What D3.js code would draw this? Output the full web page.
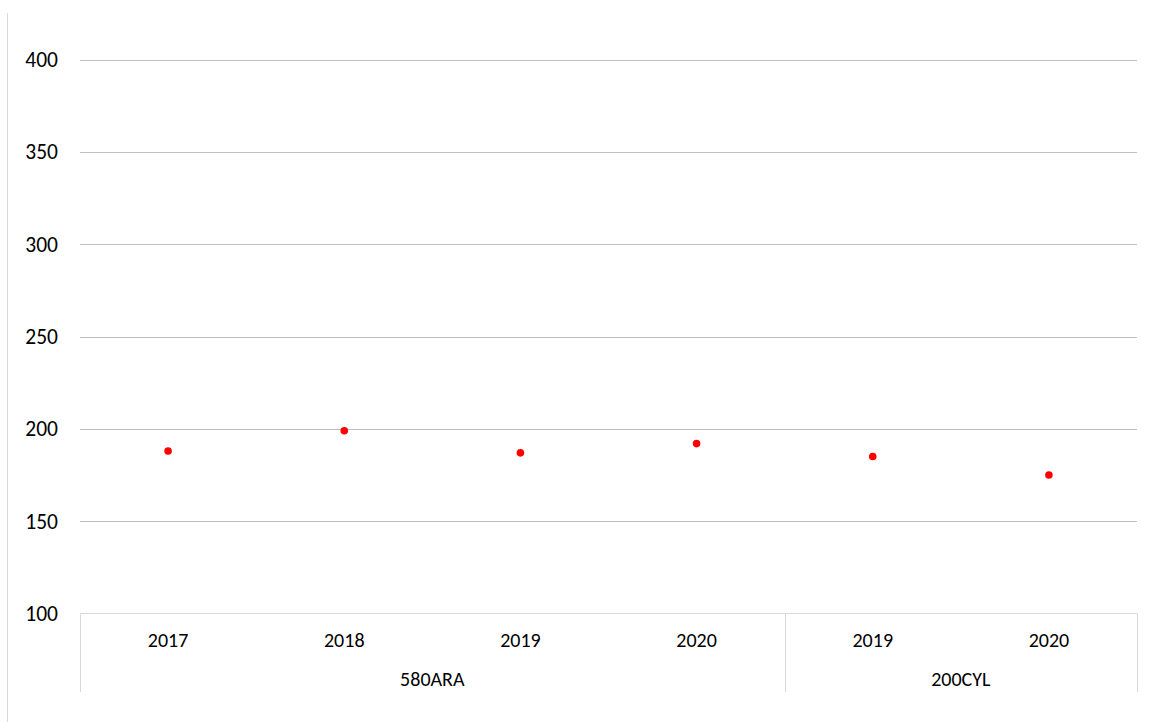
<!DOCTYPE html>
<html><head><meta charset="utf-8">
<script src="https://cdn.jsdelivr.net/npm/d3@7"></script>
<style>html,body{margin:0;padding:0;background:#fff;}svg{display:block;}</style>
</head><body>
<script>
const groups = ["580ARA","580ARA","580ARA","580ARA","200CYL","200CYL"];
const years = ["2017","2018","2019","2020","2019","2020"];
const values = [188, 199, 187, 192, 185, 175];
const yTicks = [100,150,200,250,300,350,400];

const W = 1163, H = 722;
const m = {left: 80, right: 1137, top: 59.5, bottom: 613.5};
const font = "Carlito, Calibri, 'Open Sans', 'Liberation Sans', sans-serif";

const svg = d3.select("body").append("svg").attr("width", W).attr("height", H);

// left border line
svg.append("line").attr("x1",7.5).attr("x2",7.5).attr("y1",13).attr("y2",H)
  .attr("stroke","#d9d9d9").attr("stroke-width",1);

const y = d3.scaleLinear().domain([100,400]).range([m.bottom, m.top]);
const idx = d3.range(values.length);
const x = d3.scaleBand().domain(idx).range([m.left, m.right]).padding(0);

// gridlines
svg.append("g").selectAll("line").data(yTicks.filter(t=>t>100)).join("line")
  .attr("x1", m.left).attr("x2", m.right)
  .attr("y1", d=>Math.round(y(d))+0.5).attr("y2", d=>Math.round(y(d))+0.5)
  .attr("stroke","#bfbfbf").attr("stroke-width",1);

// y axis labels
const yAxis = d3.axisLeft(y).tickValues(yTicks).tickSize(0).tickPadding(0);
const ya = svg.append("g").attr("transform",`translate(58,0)`).call(yAxis);
ya.select(".domain").remove();
ya.selectAll("text").attr("font-family",font).attr("font-size",21.5).attr("fill","#000").attr("dy","0.33em");

// category axis line
svg.append("line").attr("x1",m.left).attr("x2",m.right).attr("y1",m.bottom).attr("y2",m.bottom)
  .attr("stroke","#d9d9d9").attr("stroke-width",1);

// group separators
const groupNames = [...new Set(groups)];
const groupSpans = groupNames.map(g => {
  const ii = idx.filter(i=>groups[i]===g);
  return {name:g, x0:x(ii[0]), x1:x(ii[ii.length-1])+x.bandwidth()};
});
const seps = [m.left, ...groupSpans.map(s=>s.x1)];
svg.append("g").selectAll("line").data(seps).join("line")
  .attr("x1",d=>Math.round(d)+0.5).attr("x2",d=>Math.round(d)+0.5)
  .attr("y1",m.bottom).attr("y2",692)
  .attr("stroke","#d9d9d9").attr("stroke-width",1);

// year labels
const xAxis = d3.axisBottom(x).tickFormat(i=>years[i]).tickSize(0).tickPadding(0);
const xa = svg.append("g").attr("transform",`translate(0,640)`).call(xAxis);
xa.select(".domain").remove();
xa.selectAll("text").attr("font-family",font).attr("font-size",20).attr("fill","#000").attr("dy","0.35em");

// group labels
svg.append("g").selectAll("text").data(groupSpans).join("text")
  .attr("x",d=>(d.x0+d.x1)/2).attr("y",679).attr("dy","0.35em")
  .attr("text-anchor","middle").attr("font-family",font).attr("font-size",20).attr("fill","#000")
  .text(d=>d.name);

// points
svg.append("g").selectAll("circle").data(idx).join("circle")
  .attr("cx",i=>x(i)+x.bandwidth()/2).attr("cy",i=>y(values[i]))
  .attr("r",3.8).attr("fill","#ff0000");
</script>
</body></html>
